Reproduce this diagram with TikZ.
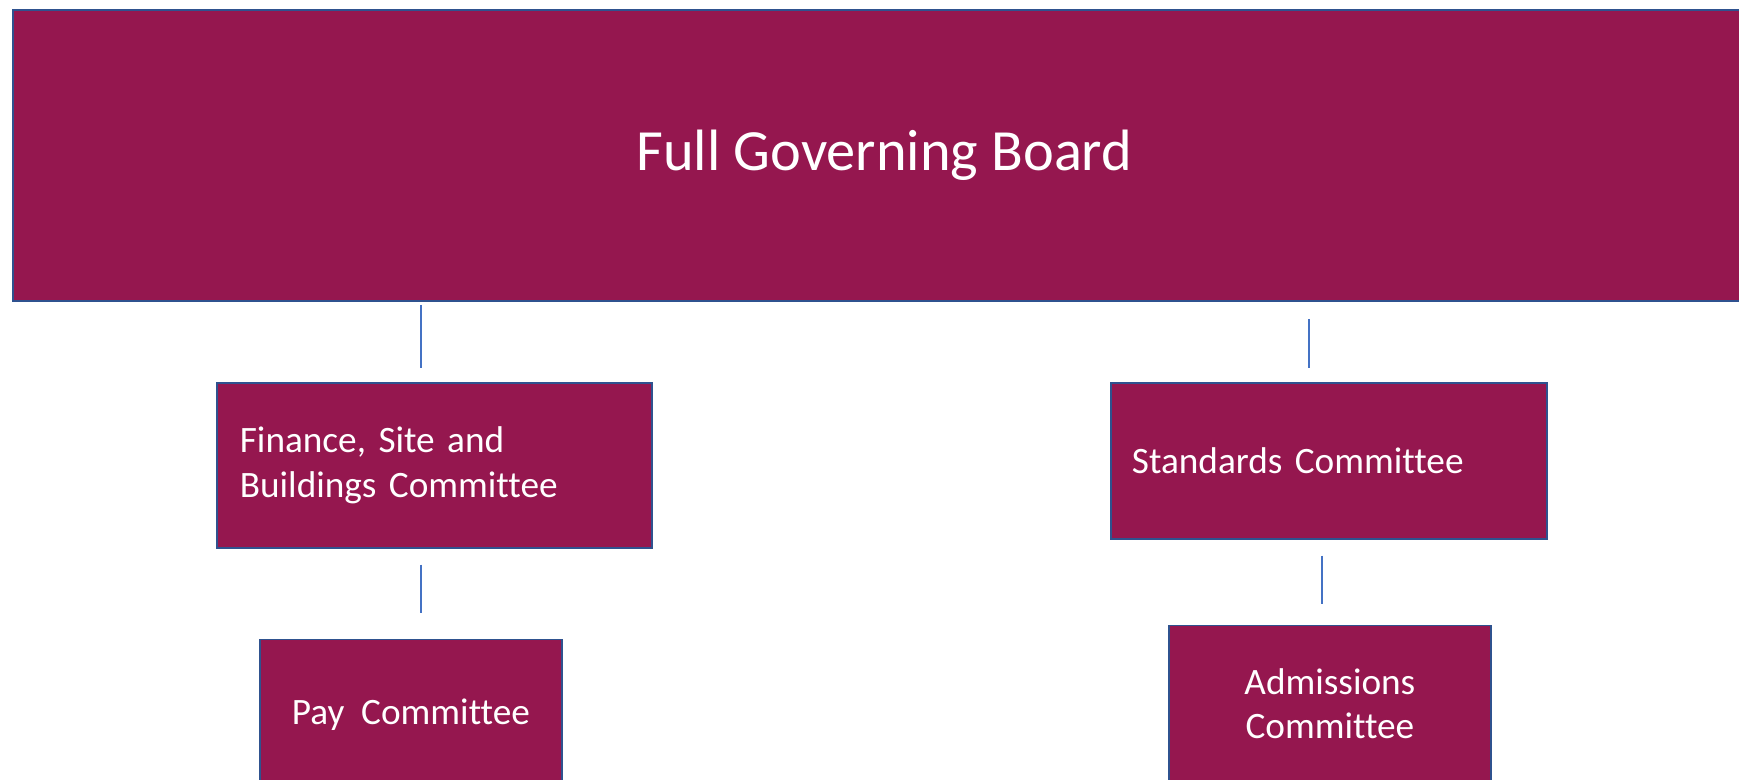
\documentclass[tikz,border=0pt]{standalone}
\usepackage{fontspec}
\setmainfont{Carlito}[Ligatures=NoCommon]
\usetikzlibrary{positioning}
\definecolor{boardred}{RGB}{149,23,79}
\definecolor{edgeblue}{RGB}{47,82,143}
\definecolor{linkblue}{RGB}{68,114,196}

\begin{document}
\begin{tikzpicture}[
    board/.style={rectangle, draw=edgeblue, line width=0.5pt, fill=boardred, text=white, minimum width=17.43cm, minimum height=2.91cm, font=\fontsize{16.6}{20}\selectfont},
    committee/.style={rectangle, draw=edgeblue, line width=0.5pt, fill=boardred, text=white, font=\fontsize{10.6}{12.6}\selectfont},
    link/.style={draw=linkblue, line width=0.35pt}
]
\useasboundingbox (0,0) rectangle (17.39,-7.8);
\clip (0,0) rectangle (17.39,-7.8);

\node (board) [board, anchor=north west] at (0.12,-0.09) {Full Governing Board};
\node (fin) [committee, below right=0.80cm and 2.04cm of board.south west, minimum height=1.65cm, text width=3.89cm, inner xsep=0.23cm, align=left] {Finance, Site and\\Buildings Committee};
\node (std) [committee, below right=0.80cm and 10.98cm of board.south west, minimum height=1.56cm, text width=3.94cm, inner xsep=0.21cm, align=left] {Standards Committee};
\node (pay) [committee, below right=0.90cm and 0.43cm of fin.south west, minimum width=3.02cm, inner ysep=0pt, text height=0.85cm, text depth=1.5cm] {Pay\ \ Committee};
\node (adm) [committee, below right=0.85cm and 0.58cm of std.south west, text width=3.22cm, inner xsep=0pt, inner ysep=0pt, align=center, text height=0.69cm, text depth=1.6cm] {Admissions\\Committee};

\draw [link, shorten <=0.03cm, shorten >=0.14cm] ([xshift=-0.135cm]fin.north |- board.south) -- ([xshift=-0.135cm]fin.north);
\draw [link, shorten <=0.16cm, shorten >=0.26cm] ([xshift=-0.135cm]fin.south) -- ([xshift=-0.135cm]fin.south |- pay.north);
\draw [link, shorten <=0.17cm, shorten >=0.14cm] ([xshift=-0.20cm]std.north |- board.south) -- ([xshift=-0.20cm]std.north);
\draw [link, shorten <=0.16cm, shorten >=0.21cm] ([xshift=-0.07cm]std.south) -- ([xshift=-0.07cm]std.south |- adm.north);
\end{tikzpicture}
\end{document}
